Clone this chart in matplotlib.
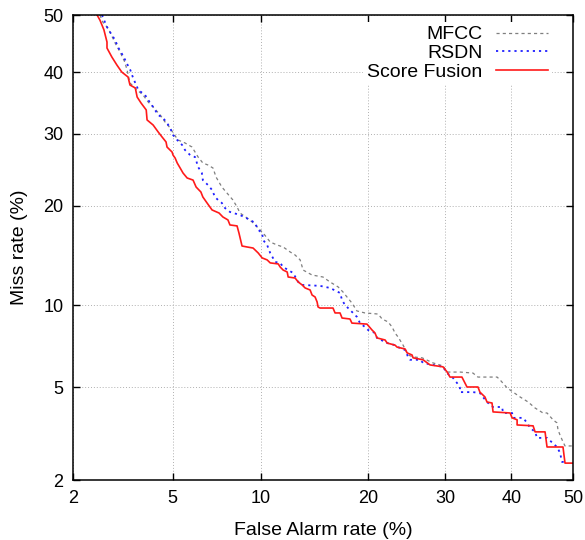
"""
DET curve (miss rate vs false alarm rate) on normal-deviate axes.
"""

import math
import numpy as np
import matplotlib
matplotlib.use("Agg")
import matplotlib.pyplot as plt
from matplotlib.ticker import NullLocator

plt.rcParams['font.family'] = ['Liberation Sans', 'DejaVu Sans']

# values in percent
mfcc_fa = [2.60, 2.67, 2.78, 2.86, 3.00, 3.14, 3.28, 3.35, 3.44, 3.67, 3.87, 4.05,
           4.23, 4.50, 4.69, 4.90, 5.02, 5.24, 5.55, 5.88, 6.18, 6.42, 6.69, 6.96,
           7.13, 7.46, 7.76, 8.12, 8.38, 8.57, 9.03, 9.37, 9.72, 10.15, 10.68, 11.22,
           11.69, 12.26, 12.68, 13.12, 13.38, 14.19, 15.22, 15.91, 16.73, 17.24, 17.66,
           18.19, 18.74, 19.64, 21.17, 21.65, 22.38, 22.87, 23.24, 23.62, 24.26, 24.91,
           25.56, 26.77, 28.27, 29.67, 30.24, 32.12, 34.05, 34.81, 37.76, 38.23, 39.33,
           40.28, 41.40, 42.69, 43.81, 45.10, 45.75, 46.73, 47.38, 47.54, 47.87, 48.36,
           48.69, 50.0]
mfcc_miss = [50.0, 48.77, 47.89, 47.0, 45.08, 43.51, 41.78, 40.4, 38.2, 37.03, 36.19,
             35.04, 34.23, 32.94, 31.83, 30.89, 30.12, 29.05, 28.6, 27.99, 26.52, 25.67,
             25.38, 24.96, 23.71, 22.37, 21.59, 20.7, 19.83, 19.09, 18.50, 18.04, 17.46,
             16.79, 15.80, 15.48, 15.28, 14.77, 14.46, 13.97, 13.0, 12.54, 12.36, 11.92,
             11.49, 11.06, 10.65, 10.17, 9.56, 9.41, 9.33, 8.97, 8.76, 8.41, 8.01, 7.75,
             7.24, 6.66, 6.55, 6.50, 6.22, 6.06, 5.74, 5.74, 5.69, 5.49, 5.49, 5.35, 4.98,
             4.79, 4.58, 4.37, 4.13, 3.94, 3.94, 3.69, 3.58, 3.35, 3.18, 2.97, 2.85, 2.85]

rsdn_fa = [2.65, 2.78, 2.86, 3.00, 3.08, 3.25, 3.32, 3.45, 3.54, 3.71, 3.94, 4.05,
           4.23, 4.42, 4.61, 4.77, 4.90, 5.02, 5.20, 5.42, 5.55, 5.79, 6.03, 6.18,
           6.37, 6.42, 6.69, 6.91, 7.07, 7.24, 7.46, 7.64, 7.94, 8.57, 9.24, 9.58,
           9.80, 10.08, 10.15, 10.45, 10.68, 11.06, 11.45, 11.69, 12.10, 12.51, 12.95,
           13.29, 14.94, 15.91, 16.93, 17.14, 17.45, 17.98, 18.74, 19.08, 19.64, 19.99,
           20.80, 21.04, 22.26, 23.24, 23.62, 24.52, 24.91, 25.17, 26.5, 26.90, 28.27,
           29.67, 30.24, 31.10, 31.68, 32.12, 32.12, 34.05, 35.11, 35.57, 36.19, 37.13,
           38.54, 38.70, 40.12, 40.28, 41.88, 42.52, 43.01, 43.81, 44.13, 45.75, 47.38,
           47.87, 48.20, 49.02]
rsdn_miss = [50.0, 47.89, 47.0, 45.6, 44.38, 42.64, 41.78, 40.4, 39.04, 37.03, 36.19,
             35.37, 34.23, 32.94, 32.46, 31.67, 30.89, 29.81, 29.05, 28.29, 27.55, 26.81,
             26.52, 25.1, 24.26, 23.3, 22.63, 21.98, 21.08, 20.7, 20.32, 19.70, 19.22,
             18.85, 18.27, 17.92, 17.13, 16.79, 16.02, 15.48, 14.66, 13.77, 13.68, 13.29,
             13.0, 12.73, 11.92, 11.66, 11.58, 11.40, 10.98, 10.41, 10.01, 9.64, 9.12,
             8.68, 8.41, 8.21, 8.01, 7.69, 7.37, 7.24, 7.12, 6.95, 6.55, 6.39, 6.39, 6.22,
             6.11, 6.01, 5.69, 5.45, 5.21, 4.98, 4.79, 4.79, 4.75, 4.58, 4.37, 4.17, 4.17,
             3.94, 3.94, 3.76, 3.76, 3.58, 3.41, 3.28, 3.09, 3.09, 2.82, 2.66, 2.42, 2.42]

fusion_fa = [2.53, 2.60, 2.70, 2.78, 2.78, 2.91, 3.05, 3.19, 3.38, 3.44, 3.61, 3.67,
             3.80, 3.98, 4.01, 4.23, 4.42, 4.57, 4.73, 4.77, 4.98, 5.02, 5.11, 5.20,
             5.33, 5.46, 5.65, 5.93, 6.08, 6.32, 6.42, 6.64, 6.91, 7.30, 7.52, 7.82,
             7.94, 8.38, 8.50, 8.70, 9.03, 9.44, 9.80, 10.08, 10.45, 10.68, 11.30, 11.45,
             11.69, 12.02, 12.10, 12.68, 12.95, 13.29, 13.56, 14.01, 14.19, 14.47, 14.66,
             14.75, 14.94, 16.21, 16.42, 16.93, 17.14, 17.98, 18.19, 19.87, 20.45, 20.80,
             21.04, 22.01, 22.26, 23.24, 23.50, 24.52, 24.78, 25.43, 25.56, 26.90, 27.86,
             29.67, 30.24, 30.67, 32.41, 33.16, 34.81, 35.11, 35.88, 36.19, 36.97, 37.13,
             39.81, 40.12, 40.92, 40.92, 43.49, 43.81, 45.43, 45.75, 48.36, 48.52, 48.69,
             50.0]
fusion_miss = [50.0, 49.1, 47.4, 45.25, 44.2, 42.64, 41.26, 40.06, 39.21, 37.86, 37.36,
               35.86, 34.88, 33.75, 32.15, 31.35, 30.27, 29.51, 28.75, 27.99, 27.25, 26.81,
               26.38, 25.67, 24.96, 24.26, 23.58, 23.3, 22.37, 21.72, 21.08, 20.32, 19.46,
               19.09, 18.62, 18.27, 17.69, 17.58, 16.79, 15.38, 15.28, 15.17, 14.66, 14.17,
               13.97, 13.68, 13.58, 13.29, 13.0, 12.82, 12.36, 12.27, 11.92, 11.66, 11.40,
               11.23, 10.81, 10.65, 10.25, 9.86, 9.78, 9.78, 9.41, 9.41, 9.04, 8.97, 8.68,
               8.61, 8.21, 8.01, 7.69, 7.56, 7.37, 7.24, 7.12, 7.01, 6.78, 6.66, 6.50, 6.39,
               6.11, 6.01, 5.75, 5.49, 5.49, 5.02, 5.02, 4.79, 4.58, 4.37, 4.33, 3.98, 3.94,
               3.76, 3.69, 3.51, 3.48, 3.28, 3.28, 2.82, 2.82, 2.60, 2.39, 2.39]

tick_values = [2, 5, 10, 20, 30, 40, 50]


# inverse normal CDF (Acklam's rational approximation), percent in
_A = [-3.969683028665376e+01, 2.209460984245205e+02, -2.759285104469687e+02,
      1.383577518672690e+02, -3.066479806614716e+01, 2.506628277459239e+00]
_B = [-5.447609879822406e+01, 1.615858368580409e+02, -1.556989798598866e+02,
      6.680131188771972e+01, -1.328068155288572e+01, 1.0]
_C = [-7.784894002430293e-03, -3.223964580411365e-01, -2.400758277161838e+00,
      -2.549732539343734e+00, 4.374664141464968e+00, 2.938163982698783e+00]
_D = [7.784695709041462e-03, 3.224671290700398e-01, 2.445134137142996e+00,
      3.754408661907416e+00, 1.0]


def probit(p):
    q = np.clip(np.asarray(p, dtype=float) / 100.0, 1e-9, 1 - 1e-9)
    r = q - 0.5
    r2 = r * r
    central = np.polyval(_A, r2) * r / np.polyval(_B, r2)
    tl = np.sqrt(-2.0 * np.log(np.minimum(q, 0.5)))
    low = np.polyval(_C, tl) / np.polyval(_D, tl)
    th = np.sqrt(-2.0 * np.log(np.minimum(1 - q, 0.5)))
    high = -np.polyval(_C, th) / np.polyval(_D, th)
    return np.where(q < 0.02425, low, np.where(q > 1 - 0.02425, high, central))


_erf = np.vectorize(math.erf)


def inv_probit(z):
    z = np.asarray(z, dtype=float)
    return 50.0 * (1.0 + _erf(z / math.sqrt(2.0)))


fig = plt.figure(figsize=(5.85, 5.4), dpi=100)
ax = fig.add_axes([0.1248, 0.1111, 0.8547, 0.8611])

ax.set_xscale('function', functions=(probit, inv_probit))
ax.set_yscale('function', functions=(probit, inv_probit))

ax.plot(mfcc_fa, mfcc_miss, color='#7f7f7f', lw=0.9, ls=(0, (2.5, 2.5)), label='MFCC')
ax.plot(rsdn_fa, rsdn_miss, color='#1f1fff', lw=1.3, ls=(0, (1.2, 2.2)), label='RSDN')
ax.plot(fusion_fa, fusion_miss, color='#ff1a1a', lw=1.2, label='Score Fusion')

ax.set_xlim(2, 50)
ax.set_ylim(2, 50)
ax.set_xticks(tick_values, [str(v) for v in tick_values])
ax.set_yticks(tick_values, [str(v) for v in tick_values])
ax.xaxis.set_minor_locator(NullLocator())
ax.yaxis.set_minor_locator(NullLocator())

ax.grid(True, color='#b0b0b0', ls=(0, (1, 2)), lw=0.7)
ax.tick_params(direction='in', length=5, width=1, top=True, right=True,
               labelsize=13, pad=7)
for s in ax.spines.values():
    s.set_linewidth(1.1)

ax.set_xlabel('False Alarm rate (%)', fontsize=14, labelpad=11)
ax.set_ylabel('Miss rate (%)', fontsize=14, labelpad=11)

leg = ax.legend(loc='upper right', bbox_to_anchor=(0.958, 0.985), markerfirst=False,
                fontsize=14, handlelength=2.7, handletextpad=0.67,
                labelspacing=0.05, borderpad=0.2, borderaxespad=0.0,
                frameon=True, fancybox=False)
leg.get_frame().set_facecolor('white')
leg.get_frame().set_edgecolor('none')
leg.get_frame().set_alpha(1.0)
for t in leg.get_texts():
    t.set_ha('right')

fig.savefig('out.png', dpi=100)
